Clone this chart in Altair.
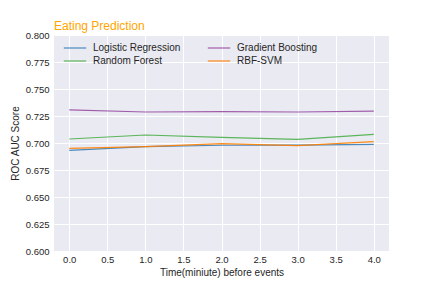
import altair as alt
import pandas as pd

times = [0, 1, 2, 3, 4]
logistic = [0.6932, 0.6966, 0.6979, 0.6981, 0.6988]
gradient = [0.7306, 0.7287, 0.7290, 0.7287, 0.7296]
forest = [0.7037, 0.7074, 0.7053, 0.7034, 0.7080]
svm = [0.6951, 0.6966, 0.6994, 0.6975, 0.7012]

series_names = ["Logistic Regression", "Random Forest", "Gradient Boosting", "RBF-SVM"]
series_colors = ["#377eb8", "#4daf4a", "#984ea3", "#ff7f00"]
y_ticks = [0.6 + 0.025 * i for i in range(9)]
x_ticks = [0, 0.5, 1, 1.5, 2, 2.5, 3, 3.5, 4]

rows = []
for name, vals in zip(series_names, [logistic, forest, gradient, svm]):
    for t, v in zip(times, vals):
        rows.append({"time": t, "score": v, "model": name})
df = pd.DataFrame(rows)

font = "Liberation Sans"

chart = alt.Chart(df).mark_line(strokeWidth=1.2, opacity=0.9).encode(
    x=alt.X("time:Q", scale=alt.Scale(domain=[-0.2, 4.2], nice=False, zero=False),
            axis=alt.Axis(values=x_ticks, format=".1f", title="Time(miniute) before events",
                          labelPadding=3)),
    y=alt.Y("score:Q", scale=alt.Scale(domain=[0.6, 0.8], nice=False, zero=False),
            axis=alt.Axis(values=y_ticks, format=".3f", title="ROC AUC Score")),
    color=alt.Color("model:N", sort=series_names,
                    scale=alt.Scale(domain=series_names, range=series_colors),
                    legend=alt.Legend(title=None, orient="none", legendX=13, legendY=5,
                                      columns=2, columnPadding=24,
                                      symbolType="M-1.6,0H1.6",
                                      symbolSize=196, symbolStrokeWidth=1.2, labelFontSize=10,
                                      labelFont=font, labelColor="#262626", rowPadding=0,
                                      labelOffset=10)),
    order=alt.Order("time:Q"),
).properties(
    width=335, height=216,
    title=alt.TitleParams("Eating Prediction", anchor="start", frame="group", color="#FFA500",
                          fontSize=12, font=font, fontWeight="normal", offset=-3),
    padding={"left": 46, "top": 27, "right": 20, "bottom": 33},
    autosize=alt.AutoSizeParams(type="none"),
).configure_view(
    fill="#EAEAF2", stroke=None
).configure_axis(
    grid=True, gridColor="white", gridWidth=1, domain=False, ticks=False,
    labelFont=font, labelFontSize=9.5, labelColor="#262626", labelPadding=5,
    titleFont=font, titleFontSize=10, titleFontWeight="normal", titleColor="#262626",
).configure_axisY(titlePadding=5).configure_axisX(titlePadding=4)

chart.save("out.html", embed_options={"renderer": "svg", "actions": False})
